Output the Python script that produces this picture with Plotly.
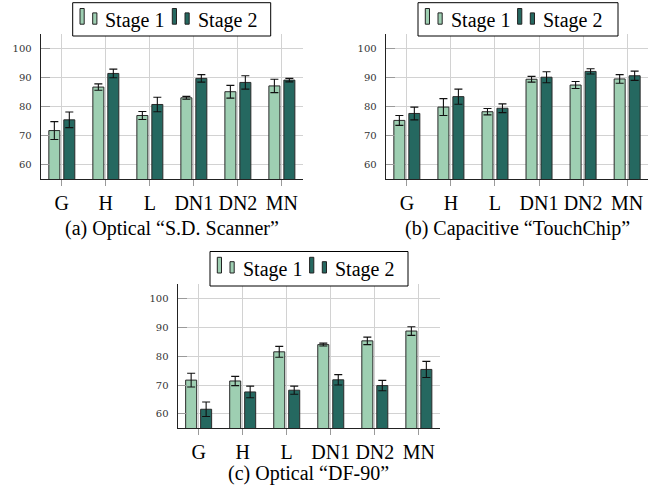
import plotly.graph_objects as go

W, H = 668, 491

categories = ["G", "H", "L", "DN1", "DN2", "MN"]
series_names = ["Stage 1", "Stage 2"]

# (a) Optical "S.D. Scanner"
a_stage1 = [71.7, 86.7, 76.9, 83.0, 85.1, 87.1]
a_stage1_err = [3.1, 1.1, 1.4, 0.5, 2.2, 2.3]
a_stage2 = [75.4, 91.4, 80.7, 89.7, 88.3, 89.1]
a_stage2_err = [2.7, 1.5, 2.5, 1.3, 2.3, 0.6]

# (b) Capacitive "TouchChip"
b_stage1 = [75.2, 79.8, 78.2, 89.4, 87.4, 89.5]
b_stage1_err = [1.7, 2.9, 1.1, 1.0, 1.2, 1.5]
b_stage2 = [77.6, 83.4, 79.4, 90.1, 92.1, 90.6]
b_stage2_err = [2.2, 2.6, 1.5, 1.9, 0.9, 1.6]

# (c) Optical "DF-90"
c_stage1 = [71.7, 71.4, 81.5, 84.0, 85.3, 88.7]
c_stage1_err = [2.4, 1.6, 1.9, 0.5, 1.3, 1.5]
c_stage2 = [61.6, 67.6, 68.2, 71.8, 69.8, 75.4]
c_stage2_err = [2.5, 2.0, 1.4, 1.8, 1.8, 2.8]

captions = ["(a) Optical \u201cS.D. Scanner\u201d",
            "(b) Capacitive \u201cTouchChip\u201d",
            "(c) Optical \u201cDF-90\u201d"]

y_ticks = [60, 70, 80, 90, 100]
y_range = [55, 105]

LIGHT = "#9ecfb2"
DARK = "#256860"
SERIF = "Liberation Serif"


def px(x):
    return x / W


def py(y):
    return 1 - y / H


# panel geometry in pixels: (left, right, top, bottom)
panels = [
    (40.7, 303.0, 34.0, 179.0),
    (385.7, 648.3, 34.0, 179.0),
    (177.5, 440.0, 284.0, 428.3),
]
# legend boxes: (left, top, width, height)
legend_boxes = [
    (72.7, 2.7, 198.0, 33.3),
    (418.0, 2.7, 200.0, 33.3),
    (210.0, 251.5, 198.0, 34.5),
]
caption_y = [228.0, 228.0, 473.5]

data = [
    (a_stage1, a_stage1_err, a_stage2, a_stage2_err),
    (b_stage1, b_stage1_err, b_stage2, b_stage2_err),
    (c_stage1, c_stage1_err, c_stage2, c_stage2_err),
]

fig = go.Figure()
layout = dict(
    width=W, height=H,
    margin=dict(l=0, r=0, t=0, b=0),
    paper_bgcolor="white", plot_bgcolor="white",
    barmode="group", bargap=0.32, bargroupgap=0.265,
    showlegend=False,
    shapes=[], annotations=[],
)

for i, (s1, e1, s2, e2) in enumerate(data):
    sfx = "" if i == 0 else str(i + 1)
    xa, ya = "x" + sfx, "y" + sfx
    for vals, errs, name, col in [(s1, e1, series_names[0], LIGHT),
                                  (s2, e2, series_names[1], DARK)]:
        fig.add_trace(go.Bar(
            x=categories, y=vals, name=name, xaxis=xa, yaxis=ya,
            marker=dict(color=col, line=dict(color="#2a2a2a", width=1)),
            error_y=dict(type="data", array=errs, visible=True,
                         color="#111111", thickness=1.1, width=4),
        ))
    l, r, t, b = panels[i]
    layout["xaxis" + sfx] = dict(
        domain=[px(l), px(r)], anchor=ya,
        range=[-0.48, 5.48], type="category",
        showgrid=True, gridcolor="#d2d2d2", gridwidth=1,
        showline=True, linecolor="#222222", linewidth=1,
        ticks="outside", ticklen=6, tickcolor="#9a9a9a", tickwidth=1,
        tickfont=dict(family=SERIF, size=20, color="black"),
        zeroline=False, fixedrange=True,
    )
    layout["yaxis" + sfx] = dict(
        domain=[py(b), py(t)], anchor=xa,
        range=y_range, tickvals=y_ticks,
        showgrid=True, gridcolor="#d2d2d2", gridwidth=1,
        showline=True, linecolor="#222222", linewidth=1,
        ticks="inside", ticklen=9, tickcolor="#9a9a9a", tickwidth=1,
        ticklabelstandoff=6,
        tickfont=dict(family="DejaVu Serif", size=10, color="#333333"),
        zeroline=False, fixedrange=True,
    )
    # caption
    layout["annotations"].append(dict(
        x=px((l + r) / 2), y=py(caption_y[i]), xref="paper", yref="paper",
        text=captions[i], showarrow=False, xanchor="center", yanchor="middle",
        font=dict(family=SERIF, size=20, color="black"),
    ))
    # legend box
    bl, bt, bw, bh = legend_boxes[i]
    layout["shapes"].append(dict(
        type="rect", xref="paper", yref="paper", layer="above",
        x0=px(bl), x1=px(bl + bw), y0=py(bt + bh), y1=py(bt),
        line=dict(color="black", width=1), fillcolor="white",
    ))
    base = bt + 21.5
    for off, col, txt_off, name in [(7.3, LIGHT, 30.6, series_names[0]),
                                     (99.6, DARK, 123.3, series_names[1])]:
        for dx, hgt in [(0, 15.7), (12.7, 11.3)]:
            layout["shapes"].append(dict(
                type="rect", xref="paper", yref="paper", layer="above",
                x0=px(bl + off + dx), x1=px(bl + off + dx + 4.2),
                y0=py(base), y1=py(base - hgt),
                line=dict(color="#222222", width=1), fillcolor=col,
            ))
        layout["annotations"].append(dict(
            x=px(bl + txt_off), y=py(bt + 17.5), xref="paper", yref="paper",
            text=name, showarrow=False, xanchor="left", yanchor="middle",
            font=dict(family=SERIF, size=20, color="black"),
        ))

fig.update_layout(**layout)
fig.write_html("out.html",
               config={"displayModeBar": False},
               post_script="document.body.style.margin='0';"
                           "document.body.style.overflow='hidden';")
